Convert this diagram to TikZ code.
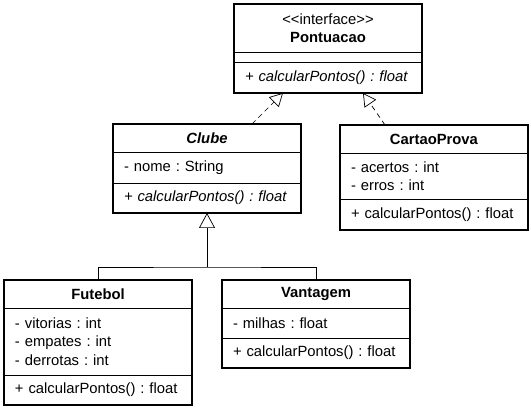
\documentclass[tikz,border=0pt]{standalone}
\usepackage{fontspec}
\setmainfont{Liberation Sans}
\usepackage{tikz}
\usetikzlibrary{arrows.meta,positioning}

\newcommand{\umlsize}{\fontsize{14.8}{18.5}\selectfont\frenchspacing}

\begin{document}
\begin{tikzpicture}[x=1pt, y=-1pt,
  compart/.style={draw, line width=0.7pt, outer sep=0pt, inner xsep=11pt, inner ysep=0pt,
    text width=166pt, align=left, font=\umlsize},
  classname/.style={compart, align=center},
  classframe/.style={draw, line width=1.5pt},
  realize/.style={-{Triangle[open, length=13pt, width=14pt]}, dash pattern=on 5pt off 4pt,
    line width=0.7pt},
  inherit/.style={-{Triangle[open, length=15pt, width=16pt]}, line width=0.7pt},
  tree/.style={line width=0.7pt}
]
\useasboundingbox (0,0) rectangle (531,411);

% Interface at the top.
\node[classname, minimum height=48pt, anchor=north west] (pontuacaoName) at (234,4)
  {{<}{<}interface{>}{>}\\\textbf{Pontuacao}};
\node[compart, minimum height=10pt, below=0pt of pontuacaoName] (pontuacaoAttr) {};
\node[compart, minimum height=31pt, below=0pt of pontuacaoAttr] (pontuacaoOps)
  {\textit{+ calcularPontos() : float}};
\draw[classframe] (pontuacaoName.north west) rectangle (pontuacaoOps.south east);

% Abstract class.
\node[classname, minimum height=28pt, anchor=north west] (clubeName) at (113,124)
  {\textbf{\textit{Clube}}};
\node[compart, minimum height=31pt, below=0pt of clubeName] (clubeAttr) {- nome : String};
\node[compart, minimum height=30pt, below=0pt of clubeAttr] (clubeOps)
  {\textit{+ calcularPontos() : float}};
\draw[classframe] (clubeName.north west) rectangle (clubeOps.south east);

\node[classname, minimum height=28pt, anchor=north west] (cartaoName) at (340,125)
  {\textbf{CartaoProva}};
\node[compart, minimum height=46pt, below=0pt of cartaoName] (cartaoAttr)
  {- acertos : int\\- erros : int};
\node[compart, minimum height=31pt, below=0pt of cartaoAttr] (cartaoOps)
  {+ calcularPontos() : float};
\draw[classframe] (cartaoName.north west) rectangle (cartaoOps.south east);

% Subclasses.
\node[classname, minimum height=28pt, anchor=north west] (futebolName) at (4,280)
  {\textbf{Futebol}};
\node[compart, minimum height=67pt, below=0pt of futebolName] (futebolAttr)
  {- vitorias : int\\- empates : int\\- derrotas : int};
\node[compart, minimum height=30pt, below=0pt of futebolAttr] (futebolOps)
  {+ calcularPontos() : float};
\draw[classframe] (futebolName.north west) rectangle (futebolOps.south east);

\node[classname, minimum height=28pt, anchor=north west] (vantagemName) at (222,280)
  {\textbf{Vantagem}};
\node[compart, minimum height=30pt, below=0pt of vantagemName] (vantagemAttr)
  {- milhas : float};
\node[compart, minimum height=30pt, below=0pt of vantagemAttr] (vantagemOps)
  {+ calcularPontos() : float};
\draw[classframe] (vantagemName.north west) rectangle (vantagemOps.south east);

% Realization of the interface.
\draw[realize] ([xshift=45pt]clubeName.north) -- ([xshift=-45pt]pontuacaoOps.south);
\draw[realize] ([xshift=-49pt]cartaoName.north) -- ([xshift=35pt]pontuacaoOps.south);

% Generalization tree.
\coordinate (join) at ([yshift=-54pt]clubeOps.south);
\draw[inherit] (join) -- (clubeOps.south);
\draw[tree] (futebolName.north) |- (join) -| (vantagemName.north);

\end{tikzpicture}
\end{document}
